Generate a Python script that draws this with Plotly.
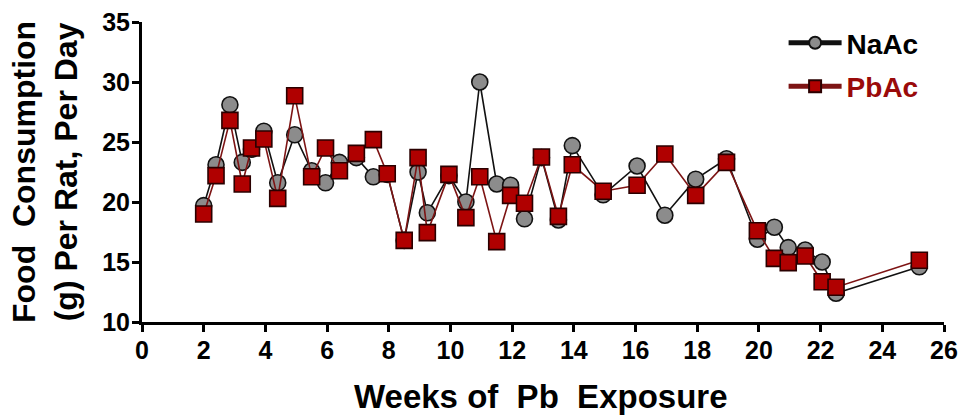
import plotly.graph_objects as go

# Weeks of exposure (shared sampling times for both groups)
weeks = [2.0, 2.4, 2.85, 3.25, 3.55, 3.95, 4.4, 4.95, 5.5, 5.95, 6.4, 6.95,
         7.5, 7.95, 8.5, 8.95, 9.25, 9.95, 10.5, 10.95, 11.5, 11.95, 12.4,
         12.95, 13.5, 13.95, 14.95, 16.05, 16.95, 17.95, 18.95, 19.95, 20.5,
         20.95, 21.5, 22.05, 22.5, 25.2]

# Food consumption, g per rat per day
naac = [19.7, 23.1, 28.1, 23.3, 24.4, 25.9, 21.6, 25.6, 22.6, 21.6, 23.3, 23.7,
        22.1, 22.3, 16.8, 22.5, 19.1, 22.2, 20.0, 30.0, 21.5, 21.4, 18.6,
        23.7, 18.5, 24.7, 20.6, 23.0, 18.9, 21.9, 23.6, 16.9, 17.9,
        16.2, 16.0, 15.0, 12.4, 14.6]
pbac = [19.0, 22.2, 26.8, 21.5, 24.5, 25.25, 20.3, 28.85, 22.1, 24.5, 22.6, 24.05,
        25.2, 22.35, 16.8, 23.7, 17.45, 22.3, 18.7, 22.1, 16.7, 20.55, 19.9,
        23.75, 18.8, 23.1, 20.9, 21.4, 24.0, 20.55, 23.3, 17.6, 15.3,
        14.95, 15.5, 13.35, 12.9, 15.15]

x_ticks = list(range(0, 27, 2))
y_ticks = [10, 15, 20, 25, 30, 35]

FONT = "Liberation Sans, Arial, sans-serif"
RED_TEXT = "#9a0a0a"
NB = "\u00a0"

fig = go.Figure()
fig.add_trace(go.Scatter(
    x=weeks, y=naac, name="NaAc", mode="lines+markers", legendgroup="na",
    line=dict(color="#111111", width=1.6),
    marker=dict(symbol="circle", size=16, color="#8c8c8c",
                line=dict(color="#111111", width=1.6)),
))
fig.add_trace(go.Scatter(
    x=weeks, y=pbac, name=f"<span style='color:{RED_TEXT}'>PbAc</span>",
    mode="lines+markers", legendgroup="pb",
    line=dict(color="#7d1414", width=1.6),
    marker=dict(symbol="square", size=16, color="#b00000",
                line=dict(color="#2a0000", width=1.6)),
))

axis_common = dict(
    showline=True, linecolor="black", linewidth=3,
    ticks="outside", ticklen=7, tickwidth=3, tickcolor="black",
    showgrid=False, zeroline=False, automargin=False,
    tickfont=dict(family=FONT, size=25, color="black", weight="bold"),
)

fig.update_xaxes(range=[0, 26], tickvals=x_ticks, ticklabelstandoff=-3, **axis_common)
fig.update_yaxes(range=[10, 35], tickvals=y_ticks, ticklabelstandoff=-3, **axis_common)

fig.add_annotation(
    text=f"<b>Food{NB}{NB}Consumption</b><br><b>(g) Per Rat, Per Day</b>",
    xref="paper", yref="paper", x=0, y=0.5, xanchor="center", yanchor="middle",
    xshift=-97, textangle=-90, showarrow=False,
    font=dict(family=FONT, size=32, color="black"),
)
fig.add_annotation(
    text=f"<b>Weeks of{NB}{NB}Pb{NB}{NB}Exposure</b>",
    xref="paper", yref="paper", x=0.498, y=0, xanchor="center", yanchor="middle",
    yshift=-74, showarrow=False,
    font=dict(family=FONT, size=33, color="black"),
)

fig.update_layout(
    width=960, height=416,
    margin=dict(l=142, r=16, t=22, b=94),
    plot_bgcolor="white", paper_bgcolor="white",
    showlegend=True,
    legend=dict(
        x=0.80, y=1.013, xanchor="left", yanchor="top",
        bgcolor="rgba(0,0,0,0)",
        font=dict(family=FONT, size=28, color="black", weight="bold"),
        itemsizing="constant", itemwidth=53, tracegroupgap=4,
    ),
)

fig.write_html("out.html")
